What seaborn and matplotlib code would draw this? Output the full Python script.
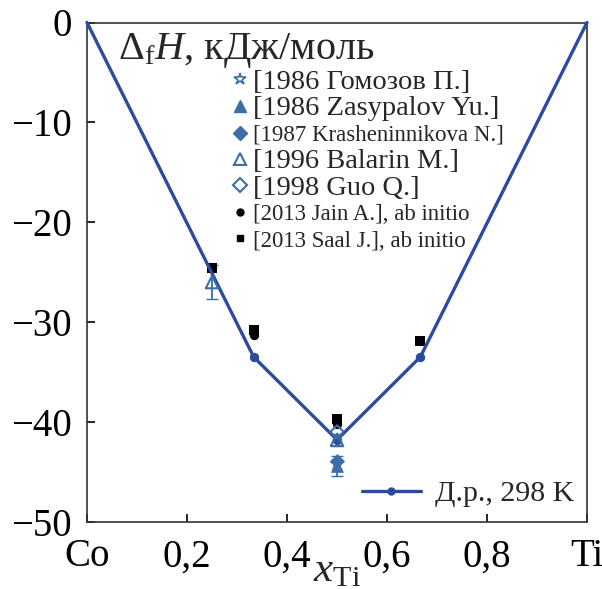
import matplotlib
matplotlib.use("Agg")
import matplotlib.pyplot as plt
import seaborn as sns
import pandas as pd
from matplotlib.lines import Line2D

sns.set_theme(style="white")
plt.rcParams['font.family'] = ['Liberation Serif', 'DejaVu Serif']
plt.rcParams['mathtext.fontset'] = 'custom'
plt.rcParams['mathtext.rm'] = 'Liberation Serif'
plt.rcParams['mathtext.it'] = 'Liberation Serif:italic'

# Model line (Д.р., 298 K)
line_x = [0.0, 1/3, 0.5, 2/3, 1.0]
line_y = [0.0, -33.5, -41.8, -33.5, 0.0]

# Experimental / calculated data
gomozov_x = [0.5]; gomozov_y = [-44.2]
zasyp_x = [0.5]; zasyp_y = [-44.4]; zasyp_err = [1.0]
krash_x = [0.5]; krash_y = [-43.9]
balarin_x = [0.25, 0.5]; balarin_y = [-26.0, -41.8]; balarin_err = [1.7, 0.6]
guo_x = [0.5]; guo_y = [-41.0]
jain_x = [1/3, 0.5]; jain_y = [-31.3, -40.2]
saal_x = [0.25, 1/3, 0.5, 2/3]; saal_y = [-24.6, -30.8, -39.7, -31.9]

xticks = [0, 0.2, 0.4, 0.6, 0.8, 1.0]
xticklabels = ["Co", "0,2", "0,4", "0,6", "0,8", "Ti"]
yticks = [0, -10, -20, -30, -40, -50]
yticklabels = ["0", "\u221210", "\u221220", "\u221230", "\u221240", "\u221250"]

LINE = "#2b4c9e"
MK = "#3b6ea8"

fig = plt.figure(figsize=(6.02, 5.89), dpi=100)
ax = fig.add_axes([87/602, 1 - 521.7/589, 500/602, (521.7 - 22.5)/589])

# error bars
ax.errorbar(balarin_x, balarin_y, yerr=balarin_err, fmt='none', ecolor=MK, elinewidth=1.3, capsize=4, zorder=2)
ax.errorbar(zasyp_x, zasyp_y, yerr=zasyp_err, fmt='none', ecolor=MK, elinewidth=1.3, capsize=4, zorder=2)

sns.scatterplot(x=saal_x, y=saal_y, marker='s', color='black', s=45, edgecolor='black', linewidth=0, ax=ax, zorder=3)
sns.scatterplot(x=jain_x, y=jain_y, marker='o', color='black', s=45, edgecolor='black', linewidth=0, ax=ax, zorder=3)
sns.scatterplot(x=guo_x, y=guo_y, marker='D', facecolor='none', edgecolor=MK, s=45, linewidth=1.5, ax=ax, zorder=4)
sns.scatterplot(x=balarin_x, y=balarin_y, marker='^', facecolor='none', edgecolor=MK, s=80, linewidth=1.5, ax=ax, zorder=4)
sns.scatterplot(x=krash_x, y=krash_y, marker='D', color=MK, edgecolor=MK, s=50, ax=ax, zorder=4)
sns.scatterplot(x=zasyp_x, y=zasyp_y, marker='^', color=MK, edgecolor=MK, s=70, ax=ax, zorder=4)
sns.scatterplot(x=gomozov_x, y=gomozov_y, marker='*', facecolor='none', edgecolor=MK, s=90, linewidth=1.2, ax=ax, zorder=5)

df_line = pd.DataFrame({"x": line_x, "y": line_y})
sns.lineplot(data=df_line, x="x", y="y", color=LINE, linewidth=2.4, marker='o', markersize=6,
             markevery=[1, 2, 3], markeredgecolor=LINE, ax=ax, zorder=3, clip_on=False)

ax.set_xlim(0, 1)
ax.set_ylim(-50, 0)
ax.set_xticks(xticks)
ax.set_xticklabels(xticklabels)
ax.set_yticks(yticks)
ax.set_yticklabels(yticklabels)
ax.tick_params(axis='both', direction='in', length=6, width=1.2, labelsize=28, colors='black',
               bottom=True, left=True, top=False, right=False)
ax.tick_params(axis='x', pad=12)
ax.tick_params(axis='y', pad=11)
for s in ax.spines.values():
    s.set_color('#333333')
    s.set_linewidth(1.2)

ax.set_xlabel(r"$x_{\mathrm{Ti}}$", fontsize=31, va='top')
ax.xaxis.set_label_coords(0.5, -0.06)
ax.set_ylabel("")

ax.text(0.062, 0.982, r"$\Delta_{\mathrm{f}}H$, кДж/моль", transform=ax.transAxes, fontsize=29,
        va='top', ha='left')

handles = [
    Line2D([], [], marker='*', ls='none', markerfacecolor='none', markeredgecolor=MK, markersize=9, markeredgewidth=1.2),
    Line2D([], [], marker='^', ls='none', color=MK, markersize=8),
    Line2D([], [], marker='D', ls='none', color=MK, markersize=7),
    Line2D([], [], marker='^', ls='none', markerfacecolor='none', markeredgecolor=MK, markersize=9, markeredgewidth=1.5),
    Line2D([], [], marker='D', ls='none', markerfacecolor='none', markeredgecolor=MK, markersize=7, markeredgewidth=1.5),
    Line2D([], [], marker='o', ls='none', color='black', markersize=5),
    Line2D([], [], marker='s', ls='none', color='black', markersize=5),
]
labels = ["[1986 Гомозов П.]", "[1986 Zasypalov Yu.]", "[1987 Krasheninnikova N.]",
          "[1996 Balarin M.]", "[1998 Guo Q.]", "[2013 Jain A.], ab initio", "[2013 Saal J.], ab initio"]
sizes = [20.5, 20.5, 16.5, 20.5, 20.5, 16.5, 16.5]
for i, (h, lab, fs) in enumerate(zip(handles, labels, sizes)):
    lg = ax.legend([h], [lab], loc='center left',
                   bbox_to_anchor=(233/602, 1 - (82 + 26.5 * i)/589),
                   bbox_transform=fig.transFigure, frameon=False, fontsize=fs,
                   handlelength=0.5 * 20.5 / fs, handletextpad=0.2 * 20.5 / fs,
                   borderpad=0, borderaxespad=0)
    ax.add_artist(lg)

h2 = [Line2D([], [], color=LINE, lw=2.4, marker='o', markersize=5)]
leg2 = ax.legend(h2, ["Д.р., 298 K"], loc='lower right', bbox_to_anchor=(574/602, 1 - 507/589),
                 bbox_transform=fig.transFigure, frameon=False, fontsize=21.5,
                 handlelength=2.0, handletextpad=0.45, borderpad=0, borderaxespad=0)

fig.savefig("out.png", dpi=100)
